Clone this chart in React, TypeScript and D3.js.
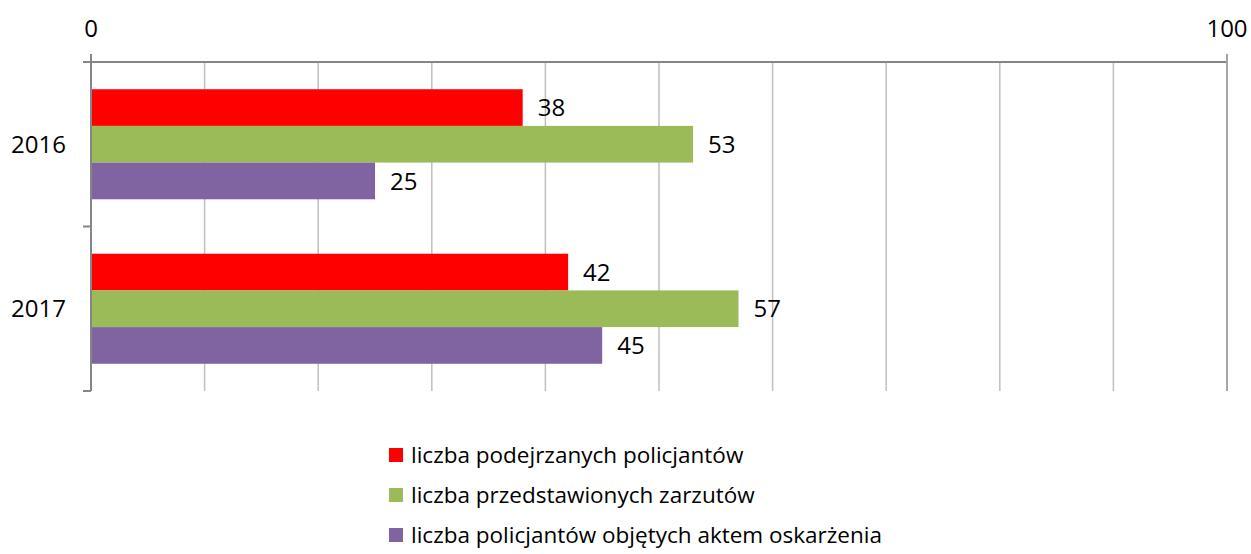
import React, { useRef, useEffect } from 'react';
import * as d3 from 'd3';

const years = ['2016', '2017'];
const seriesNames = [
  'liczba podejrzanych policjantów',
  'liczba przedstawionych zarzutów',
  'liczba policjantów objętych aktem oskarżenia',
];
const suspects = [38, 42];
const charges = [53, 57];
const indicted = [25, 45];
const colors = ['#FF0000', '#9BBB59', '#8064A2'];
const axisTicks = [0, 100];

const App = () => {
  const ref = useRef<SVGSVGElement>(null);

  useEffect(() => {
    const width = 1251;
    const height = 554;
    const svg = d3.select(ref.current).attr('width', width).attr('height', height);
    svg.selectAll('*').remove();

    const font = "'Open Sans', sans-serif";
    const left = 91, right = 1227, top = 62, bottom = 391;
    const values = [suspects, charges, indicted];

    const x = d3.scaleLinear().domain([0, 100]).range([left, right]);
    const y = d3.scaleBand().domain(years).range([top, bottom]).paddingInner(0.331).paddingOuter(0.1655);
    const inner = d3.scaleBand().domain(seriesNames).range([0, y.bandwidth()]);

    // minor gridlines every 10
    svg.append('g')
      .selectAll('line')
      .data(d3.range(10, 101, 10))
      .enter().append('line')
      .attr('x1', d => x(d)).attr('x2', d => x(d))
      .attr('y1', top).attr('y2', bottom)
      .attr('stroke', '#BFBFBF').attr('stroke-width', 1.5);

    // bars
    const g = svg.append('g');
    years.forEach((yr, i) => {
      seriesNames.forEach((s, j) => {
        const v = values[j][i];
        const by = (y(yr) as number) + (inner(s) as number);
        g.append('rect')
          .attr('x', x(0))
          .attr('y', by)
          .attr('width', x(v) - x(0))
          .attr('height', inner.bandwidth())
          .attr('fill', colors[j]);
        g.append('text')
          .attr('x', x(v) + 15)
          .attr('y', by + inner.bandwidth() / 2)
          .attr('dy', '0.36em')
          .attr('font-family', font)
          .attr('font-size', 24)
          .attr('fill', '#000')
          .text(v);
      });
    });

    // top axis
    const axisColor = '#868686';
    svg.append('line')
      .attr('x1', left).attr('x2', right).attr('y1', top).attr('y2', top)
      .attr('stroke', axisColor).attr('stroke-width', 2);
    axisTicks.forEach(t => {
      svg.append('line')
        .attr('x1', x(t)).attr('x2', x(t)).attr('y1', top - 8).attr('y2', t === 0 ? top : bottom)
        .attr('stroke', t === 0 ? axisColor : '#A6A6A6').attr('stroke-width', 2);
      svg.append('text')
        .attr('x', x(t)).attr('y', 28).attr('dy', '0.36em')
        .attr('text-anchor', 'middle')
        .attr('font-family', font).attr('font-size', 24)
        .text(t);
    });

    // left axis
    svg.append('line')
      .attr('x1', left).attr('x2', left).attr('y1', top - 8).attr('y2', bottom)
      .attr('stroke', axisColor).attr('stroke-width', 2);
    const bounds = [top, ...years.slice(1).map(yr => (y(yr) as number) - y.step() * y.paddingInner() / 2), bottom];
    bounds.forEach(b => {
      svg.append('line')
        .attr('x1', left - 8).attr('x2', left).attr('y1', b).attr('y2', b)
        .attr('stroke', axisColor).attr('stroke-width', 2);
    });
    years.forEach(yr => {
      svg.append('text')
        .attr('x', 66)
        .attr('y', (y(yr) as number) + y.bandwidth() / 2)
        .attr('dy', '0.36em')
        .attr('text-anchor', 'end')
        .attr('font-family', font).attr('font-size', 24)
        .text(yr);
    });

    // legend
    const legend = svg.append('g');
    seriesNames.forEach((s, j) => {
      const cy = 455 + j * 40;
      legend.append('rect')
        .attr('x', 389).attr('y', cy - 7).attr('width', 14).attr('height', 14)
        .attr('fill', colors[j]);
      legend.append('text')
        .attr('x', 411).attr('y', cy).attr('dy', '0.34em')
        .attr('font-family', font).attr('font-size', 22.5)
        .text(s);
    });
  }, []);

  return <svg ref={ref} style={{ position: 'absolute', left: 0, top: 0 }} />;
};

export default App;
